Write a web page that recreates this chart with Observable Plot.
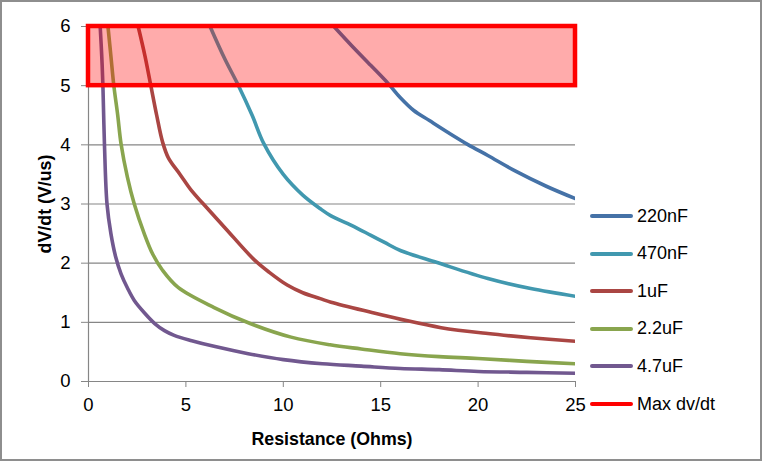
<!DOCTYPE html>
<html>
<head>
<meta charset="utf-8">
<script src="https://cdn.jsdelivr.net/npm/d3@7"></script>
<script src="https://cdn.jsdelivr.net/npm/@observablehq/plot@0.6"></script>
<style>
  html, body { margin: 0; padding: 0; background: #fff; }
  #wrap { position: relative; width: 762px; height: 461px; overflow: hidden; font-family: "Liberation Sans", Arial, sans-serif; }
  #frame { position: absolute; left: 0; top: 0; width: 762px; height: 461px; box-sizing: border-box; border: 2px solid #8e8e8e; pointer-events: none; }
  #legend { position: absolute; left: 590px; top: 0; }
  .item { position: absolute; left: 0; height: 20px; display: flex; align-items: center; white-space: nowrap; font-size: 18px; color: #000; }
  .swatch { width: 43px; height: 4px; margin-right: 4px; border-radius: 2px; }
  svg text { fill: #000; }
  g[aria-label="x-axis tick label"] text, g[aria-label="y-axis tick label"] text { font-size: 18.5px; }
  g[aria-label="x-axis label"] text, g[aria-label="y-axis label"] text { font-weight: bold; font-size: 17.8px; }
</style>
</head>
<body>
<div id="wrap"><div id="chart"></div><div id="legend"></div><div id="frame"></div></div>
<script>
// ---- data ----
const seriesNames = ["220nF", "470nF", "1uF", "2.2uF", "4.7uF"];
const seriesColors = ["#4572A7", "#4198AF", "#AA4643", "#89A54E", "#71588F"];

const r220 = [12.6, 13.5, 14.5, 15.4, 16.0, 16.7, 17.5, 18.5, 19.5, 20.5, 21.9, 23.5, 25.0];
const v220 = [6.0, 5.68, 5.34, 5.03, 4.8, 4.58, 4.41, 4.2, 4.0, 3.82, 3.56, 3.3, 3.09];

const r470 = [6.24, 7.0, 7.7, 8.4, 9.0, 10.0, 11.0, 11.9, 12.45, 13.5, 14.5, 15.2, 16.04, 17.9, 20.5, 22.7, 25.0];
const v470 = [6.0, 5.45, 5.0, 4.5, 4.02, 3.5, 3.15, 2.92, 2.8, 2.64, 2.47, 2.35, 2.21, 2.01, 1.74, 1.57, 1.44];

const r1u = [2.55, 2.9, 3.2, 3.5, 3.8, 4.1, 4.7, 5.3, 5.9, 7.0, 8.5, 9.3, 10.2, 11.0, 11.9, 12.45, 14.5, 16.04, 18.1, 20.5, 22.7, 25.0];
const v1u = [6.0, 5.5, 5.0, 4.5, 4.05, 3.78, 3.5, 3.22, 3.0, 2.6, 2.06, 1.84, 1.63, 1.5, 1.4, 1.34, 1.17, 1.05, 0.91, 0.81, 0.74, 0.68];

const r2u2 = [1.0, 1.15, 1.3, 1.5, 1.67, 2.0, 2.35, 2.86, 3.3, 3.8, 4.6, 6.45, 8.3, 10.4, 12.4, 14.0, 16.0, 18.0, 20.0, 22.5, 25.0];
const v2u2 = [6.0, 5.5, 5.0, 4.5, 4.02, 3.45, 3.0, 2.5, 2.15, 1.88, 1.59, 1.25, 0.98, 0.75, 0.62, 0.55, 0.47, 0.42, 0.39, 0.34, 0.30];

const r4u7 = [0.6, 0.68, 0.74, 0.82, 0.95, 1.15, 1.4, 1.67, 2.0, 2.35, 2.9, 3.4, 3.9, 4.4, 5.3, 6.5, 8.2, 10.0, 12.0, 14.0, 16.0, 18.0, 20.0, 22.5, 25.0];
const v4u7 = [6.0, 5.5, 5.0, 4.0, 3.0, 2.5, 2.1, 1.82, 1.58, 1.37, 1.15, 0.98, 0.86, 0.78, 0.69, 0.59, 0.47, 0.37, 0.30, 0.26, 0.22, 0.20, 0.17, 0.155, 0.14];

const maxName = "Max dv/dt";
const maxColor = "#FF0000";
const maxR = [0, 25];
const maxV = [5, 6];

const xTicks = [0, 5, 10, 15, 20, 25];
const yTicks = [0, 1, 2, 3, 4, 5, 6];
const xTitle = "Resistance (Ohms)";
const yTitle = "dV/dt (V/us)";

// ---- build table ----
const rs = [r220, r470, r1u, r2u2, r4u7];
const vs = [v220, v470, v1u, v2u2, v4u7];
const rows = [];
seriesNames.forEach((name, i) => rs[i].forEach((r, j) => rows.push({series: name, r, v: vs[i][j]})));
const rectData = [{x1: maxR[0], x2: maxR[1], y1: maxV[0], y2: maxV[1]}];

const chart = Plot.plot({
  width: 762,
  height: 461,
  marginLeft: 88,
  marginRight: 187,
  marginTop: 26,
  marginBottom: 80,
  style: {fontFamily: "'Liberation Sans', Arial, sans-serif", fontSize: "17.5px", background: "transparent", color: "#000"},
  x: {domain: [0, 25]},
  y: {domain: [0, 6]},
  color: {domain: seriesNames, range: seriesColors},
  marks: [
    Plot.gridY(yTicks, {stroke: "#868686", strokeOpacity: 1, strokeWidth: 1.2}),
    Plot.ruleX([0], {stroke: "#868686", strokeWidth: 1.2}),
    Plot.ruleY([0], {stroke: "#868686", strokeWidth: 1.2}),
    Plot.axisY(yTicks, {tickSize: 7, tickPadding: 11, fontSize: 18.5, stroke: "#868686", tickFormat: d => String(d), label: null}),
    Plot.axisY({ticks: [], tickSize: 0, label: yTitle, labelAnchor: "center", labelArrow: "none", labelOffset: 50, fontSize: 17.8}),
    Plot.axisX(xTicks, {tickSize: 6, tickPadding: 10, fontSize: 18.5, stroke: "#868686", tickFormat: d => String(d), label: null}),
    Plot.axisX({ticks: [], tickSize: 0, label: xTitle, labelAnchor: "center", labelArrow: "none", labelOffset: 63, fontSize: 17.8}),
    Plot.line(rows, {x: "r", y: "v", z: "series", stroke: "series", strokeWidth: 3.6, curve: "catmull-rom", clip: true}),
    Plot.rect(rectData, {x1: "x1", x2: "x2", y1: "y1", y2: "y2", fill: maxColor, fillOpacity: 0.33, stroke: maxColor, strokeWidth: 4.5})
  ]
});
document.getElementById("chart").appendChild(chart);

// ---- legend ----
const legend = document.getElementById("legend");
const names = [...seriesNames, maxName];
const colors = [...seriesColors, maxColor];
names.forEach((n, i) => {
  const d = document.createElement("div");
  d.className = "item";
  d.style.top = (206 + i * 37.6) + "px";
  d.innerHTML = `<span class="swatch" style="background:${colors[i]}"></span><span>${n}</span>`;
  legend.appendChild(d);
});
</script>
</body>
</html>
